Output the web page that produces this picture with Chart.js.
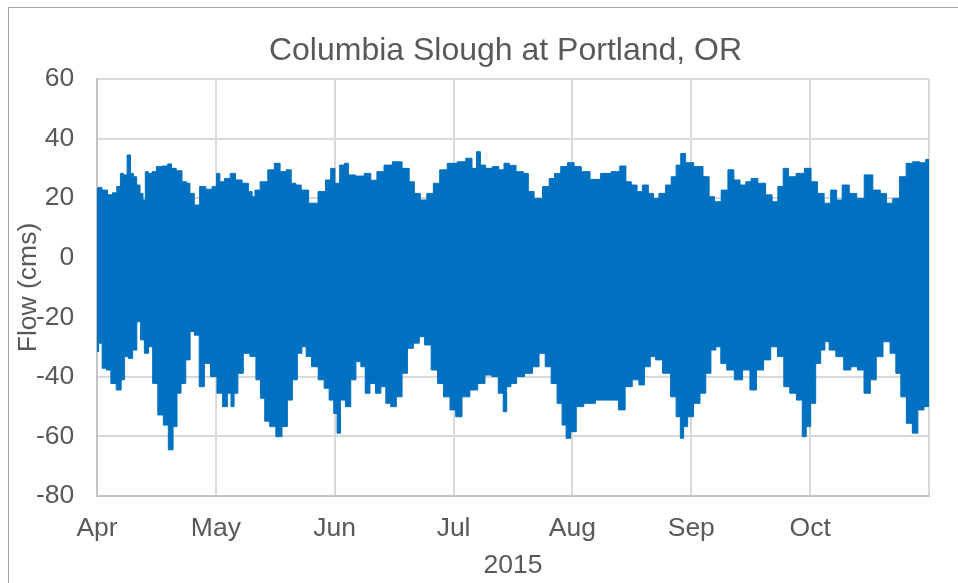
<!DOCTYPE html>
<html><head><meta charset="utf-8">
<script src="https://cdn.jsdelivr.net/npm/chart.js@4/dist/chart.umd.min.js"></script>
<style>
html,body{margin:0;padding:0;background:#fff;overflow:hidden;}
#wrap{position:relative;width:958px;height:583px;overflow:hidden;}
#frame{position:absolute;left:8px;top:7px;width:1200px;height:800px;border:1px solid #a6a6a6;pointer-events:none;}
canvas{display:block;}
</style></head><body>
<div id="wrap"><canvas id="c" width="958" height="583"></canvas><div id="frame"></div></div>
<script>
const chartTitle = 'Columbia Slough at Portland, OR';
const yAxisTitle = 'Flow (cms)';
const xAxisTitle = '2015';
const monthLabels = ['Apr','May','Jun','Jul','Aug','Sep','Oct'];
const monthDays = [30,31,30,31,31,30,31];
const yTicks = [-80,-60,-40,-20,0,20,40,60];

// [days since 1 Apr 2015, daily high-flow envelope (cms)]
const upperEnvelope = [[0,23.3],[0.5,23.6],[2.0,22.7],[3.3,21.1],[4.5,21.8],[5.5,23.9],[6.3,28.3],[7.1,27.8],[8.1,34.5],[8.8,28.3],[9.6,27.2],[10.4,24.4],[11.3,21.6],[11.9,19.4],[12.5,28.9],[13.4,28.3],[14.4,28.9],[15.6,30.6],[17.4,30.8],[18.3,31.5],[19.3,30.0],[20.7,29.2],[22.2,25.5],[23.0,25.0],[23.9,21.6],[25.2,17.7],[26.6,23.9],[28.3,23.0],[29.8,23.9],[30.6,28.3],[31.5,25.5],[33.0,26.6],[34.5,28.3],[35.8,26.1],[37.9,25.0],[39.1,22.2],[39.8,20.5],[40.6,22.7],[42.5,25.5],[44.6,29.5],[45.9,31.7],[47.6,28.9],[49.1,29.5],[50.2,25.0],[51.5,24.4],[53.0,22.7],[55.4,18.3],[57.9,22.2],[59.3,26.1],[60.6,30.0],[61.5,25.0],[63.0,31.1],[63.9,31.7],[65.0,27.8],[67.4,27.4],[69.5,28.3],[70.7,26.0],[72.6,28.9],[74.3,31.1],[76.8,32.2],[79.2,30.0],[80.4,25.5],[81.8,21.6],[83.4,19.4],[85.1,21.6],[86.7,25.0],[88.3,29.5],[90.5,31.7],[93.4,32.2],[95.0,33.4],[96.6,30.0],[97.4,35.6],[98.6,31.1],[100.1,30.0],[102.1,30.6],[103.5,29.5],[104.8,31.7],[106.3,31.0],[108.3,28.9],[110.1,28.3],[110.9,22.2],[113.1,19.9],[115.3,23.9],[116.6,26.6],[118.1,28.3],[119.8,30.6],[121.6,31.9],[123.3,30.6],[125.3,28.9],[127.9,26.3],[130.8,28.3],[133.4,28.9],[135.3,30.8],[136.6,25.5],[138.1,24.4],[139.6,22.2],[140.9,24.4],[142.7,21.6],[143.6,19.9],[145.5,21.6],[147.1,24.4],[148.4,27.2],[149.7,31.1],[150.8,35.0],[152.2,31.9],[155.0,30.6],[156.9,27.2],[158.1,20.5],[159.6,18.8],[161.5,22.7],[163.0,29.5],[164.5,26.1],[166.1,24.4],[167.4,25.5],[168.8,26.6],[170.8,25.0],[172.7,21.1],[174.1,18.8],[175.6,23.9],[176.8,30.0],[178.3,27.2],[180.6,28.3],[182.5,30.0],[184.0,25.5],[185.8,21.6],[187.5,18.3],[189.2,22.7],[190.6,19.4],[192.1,24.4],[194.3,21.6],[196.0,19.9],[198.2,27.8],[200.5,22.7],[202.1,21.6],[203.7,18.3],[205.4,19.9],[207.2,27.2],[208.9,31.7],[210.6,32.2],[212.5,31.9],[213.8,33.0],[214,33.0]];

// [days since 1 Apr 2015, daily low-flow envelope (cms)]
const lowerEnvelope = [[0,-31.5],[0.8,-28.7],[1.8,-37.1],[2.9,-37.7],[4.1,-42.2],[5.6,-44.4],[6.6,-41.0],[7.3,-33.2],[8.5,-33.8],[9.5,-31.0],[10.6,-21.5],[11.4,-27.6],[12.5,-32.1],[13.5,-29.9],[14.6,-42.2],[16.1,-52.8],[17.4,-56.2],[18.6,-64.5],[19.8,-56.7],[20.6,-45.5],[21.8,-42.2],[23.0,-34.3],[24.0,-24.8],[25.2,-26.0],[26.4,-43.3],[27.8,-35.5],[29.5,-39.9],[31.1,-45.5],[32.4,-50.0],[33.6,-45.5],[34.3,-50.0],[35.2,-45.5],[36.3,-38.8],[38.0,-32.1],[39.8,-33.2],[41.1,-41.0],[42.2,-47.2],[43.3,-54.9],[44.8,-56.7],[46.5,-60.1],[48.0,-56.7],[49.3,-47.8],[50.6,-41.0],[51.9,-32.1],[53.0,-29.9],[54.1,-33.2],[55.8,-36.6],[57.6,-41.0],[58.9,-43.8],[60.2,-47.8],[61.3,-52.3],[61.9,-58.9],[63.0,-47.8],[64.4,-50.0],[65.7,-41.0],[67.0,-34.9],[68.2,-36.6],[69.2,-45.5],[70.6,-42.2],[72.0,-45.5],[73.3,-43.3],[74.5,-48.9],[75.8,-50.0],[77.3,-46.7],[78.7,-38.8],[80.0,-30.4],[81.7,-28.7],[83.0,-26.5],[84.4,-29.3],[86.3,-37.7],[87.6,-42.2],[89.3,-46.7],[90.9,-51.1],[92.2,-53.4],[94.2,-46.7],[96.3,-44.4],[98.3,-42.2],[100.1,-39.4],[101.8,-39.9],[103.5,-45.5],[104.4,-51.7],[105.3,-43.3],[106.6,-42.2],[108.3,-39.9],[110.7,-38.8],[112.5,-36.6],[114.1,-32.1],[115.7,-36.6],[117.2,-42.2],[118.8,-48.9],[119.8,-56.2],[120.9,-60.6],[122.2,-58.4],[123.8,-50.0],[126.1,-48.9],[129.9,-47.8],[133.1,-47.8],[134.9,-51.1],[136.6,-43.3],[138.6,-41.0],[140.1,-42.7],[141.5,-36.6],[143.1,-33.2],[144.2,-34.3],[146.8,-38.8],[148.4,-46.7],[149.7,-53.4],[150.6,-60.6],[151.4,-56.7],[152.7,-53.4],[154.4,-48.9],[156.0,-45.5],[157.3,-38.8],[158.6,-31.0],[159.8,-29.9],[161.1,-35.5],[162.8,-37.7],[164.9,-41.0],[167.0,-37.7],[168.6,-44.4],[170.3,-37.7],[172.2,-34.3],[173.9,-29.9],[175.6,-33.2],[177.1,-43.3],[178.6,-45.5],[180.5,-47.8],[181.5,-60.1],[182.5,-56.7],[183.8,-48.9],[185.1,-35.5],[186.4,-31.0],[187.3,-28.2],[188.6,-31.0],[190.8,-33.2],[192.7,-37.7],[194.5,-36.6],[196.2,-37.7],[197.9,-45.5],[199.5,-41.0],[201.0,-33.2],[203.0,-28.2],[204.7,-32.1],[206.0,-38.8],[207.3,-46.7],[208.9,-55.6],[210.4,-58.9],[211.8,-51.1],[213.6,-50.0],[214,-50.0]];

// Excel-style month axis: each month gets equal width
function dayToAxis(d){
  let k = 0, start = 0;
  while (k < monthDays.length - 1 && d >= start + monthDays[k]) { start += monthDays[k]; k++; }
  return k + (d - start) / monthDays[k];
}
const toPoints = env => env.map(([d, v]) => ({x: dayToAxis(d), y: v}));

const textColor = '#595959';
const blue = '#0070C0';
Chart.defaults.font.family = '"Liberation Sans", Arial, sans-serif';
Chart.defaults.color = textColor;

new Chart(document.getElementById('c'), {
  type: 'line',
  data: {
    datasets: [
      {label: 'Low', data: toPoints(lowerEnvelope), borderColor: blue, borderWidth: 1, pointRadius: 0, stepped: 'middle', fill: false},
      {label: 'High', data: toPoints(upperEnvelope), borderColor: blue, backgroundColor: blue, borderWidth: 1, pointRadius: 0, stepped: 'middle', fill: '-1'}
    ]
  },
  options: {
    responsive: false,
    animation: false,
    events: [],
    layout: {padding: {left: 82, right: 29, top: 0, bottom: 0}},
    plugins: {
      legend: {display: false},
      tooltip: {enabled: false},
      title: {display: true, text: chartTitle, color: textColor, font: {size: 32, weight: 'normal'}, padding: {top: 31.5, bottom: 9.1}}
    },
    scales: {
      x: {
        type: 'linear', min: 0, max: monthLabels.length,
        afterBuildTicks: s => { s.ticks = monthLabels.map((m, i) => ({value: i})).concat([{value: monthLabels.length}]); },
        afterFit: s => { s.height = 87; },
        ticks: {autoSkip: false, maxRotation: 0, padding: 17, color: textColor, font: {size: 26.5},
          callback: v => monthLabels[v] !== undefined ? monthLabels[v] : ''},
        grid: {color: '#d9d9d9', lineWidth: 2, drawTicks: false},
        border: {display: true, color: '#c4c4c4', width: 2},
        title: {display: true, text: xAxisTitle, color: textColor, font: {size: 26.5}, padding: {top: 0, bottom: 1}}
      },
      y: {
        min: yTicks[0], max: yTicks[yTicks.length - 1],
        afterBuildTicks: s => { s.ticks = yTicks.map(v => ({value: v})); },
        afterFit: s => { s.width = 15; },
        ticks: {mirror: true, crossAlign: 'far', padding: -61, color: textColor, font: {size: 26.5}},
        grid: {color: '#d9d9d9', lineWidth: 2, drawTicks: false},
        border: {display: true, color: '#c4c4c4', width: 2},
        title: {display: true, text: yAxisTitle, color: textColor, font: {size: 26.5}, padding: {top: -69, bottom: 0}}
      }
    }
  }
});
</script>
</body></html>
